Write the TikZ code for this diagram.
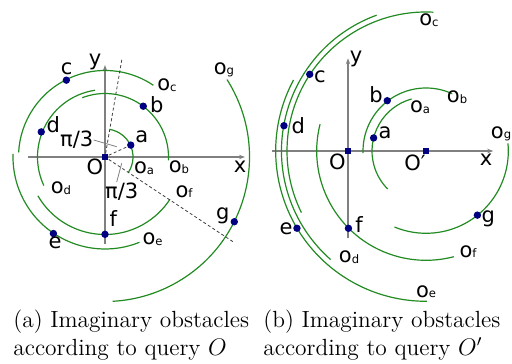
\documentclass[tikz,border=0pt]{standalone}
\usepackage{fontspec}
\usetikzlibrary{arrows.meta}
\newfontfamily\lblfont{DejaVu Sans}
\definecolor{obstgreen}{RGB}{34,139,34}
\definecolor{ptblue}{RGB}{0,0,128}
\newcommand\obsl[1]{o\raisebox{-0.3pt}{\fontsize{5.8}{6}\selectfont #1}}
\begin{document}
\begin{tikzpicture}[x=0.5pt,y=-0.5pt,
  obst/.style={draw=obstgreen, line width=0.6pt},
  axis/.style={draw=gray, line width=0.55pt, -{Stealth[length=3pt,width=2.2pt]}},
  guide/.style={draw=black!75, line width=0.4pt, dash pattern=on 1.5pt off 1.2pt},
  leader/.style={draw=gray, line width=0.4pt},
  pt/.style={circle, fill=ptblue, inner sep=0pt, minimum size=3.7pt},
  orig/.style={rectangle, fill=ptblue, inner sep=0pt, minimum size=3.4pt},
  lbl/.style={inner sep=0pt, font=\lblfont\fontsize{10.5}{12}\selectfont},
  captxt/.style={inner sep=0pt, anchor=base west, font=\fontsize{11.7}{14}\selectfont}]
\useasboundingbox (0,0) rectangle (512,363);

% ---------------- left panel ----------------
\begin{scope}[shift={(105,157)}, yscale=-1]
  \coordinate (xl1) at (-77,0);
  \coordinate (xr1) at (140,0);
  \coordinate (yb1) at (0,-87);
  \coordinate (yt1) at (0,92);
  \draw[axis] (xl1) -- (xr1);
  \draw[axis] (yb1) -- (yt1);
  % obstacles
  \draw[obst] (-33:28) arc[start angle=-33, end angle=80, radius=28];
  \draw[obst] (-3:63.5) arc[start angle=-3, end angle=111, radius=63.5];
  \draw[obst] (56:86.5) arc[start angle=56, end angle=177, radius=86.5];
  \draw[obst] (98.6:67.5) arc[start angle=98.6, end angle=205, radius=67.5];
  \draw[obst] (178:92) arc[start angle=178, end angle=292, radius=92];
  \draw[obst] (210:77.5) arc[start angle=210, end angle=327, radius=77.5];
  \draw[obst] (32.4:144.5) arc[start angle=32.4, end angle=-87, radius=144.5];
  % points
  \node[orig] (O1) at (0,0) {};
  \node[pt] (a1) at (24.8:28.4) {};
  \node[pt] (b1) at (53:63.6) {};
  \node[pt] (c1) at (116.7:86) {};
  \node[pt] (d1) at (158.5:68.5) {};
  \node[pt] (e1) at (236:92.3) {};
  \node[pt] (f1) at (270:77.3) {};
  \node[pt] (g1) at (-26.6:144.6) {};
  % guide lines
  \coordinate (u1) at (80.2:99);
  \coordinate (w1) at (-33.5:155);
  \draw[guide] (O1) -- (u1);
  \draw[guide] (O1) -- (a1);
  \draw[guide] (O1) -- (w1);
  % labels
  \node[lbl] (ly1) at (-10,95.3) {y};
  \node[lbl] (lx1) at (135,-9.7) {x};
  \node[lbl] (lO1) at (-10,-9.7) {O};
  \node[lbl] (la1) at (36.7,20.3) {a};
  \node[lbl] (lb1) at (51.7,52) {b};
  \node[lbl] (lc1) at (-38.3,88.7) {c};
  \node[lbl] (ld1) at (-51.7,32) {d};
  \node[lbl] (le1) at (-50,-85.7) {e};
  \node[lbl] (lf1) at (8.3,-62) {f};
  \node[lbl] (lg1) at (117.7,-59.3) {g};
  \node[lbl] (loa1) at (39,-11.3) {\obsl{a}};
  \node[lbl] (lob1) at (74,-10.3) {\obsl{b}};
  \node[lbl] (loc1) at (62,72) {\obsl{c}};
  \node[lbl] (lod1) at (-44,-31.3) {\obsl{d}};
  \node[lbl] (loe1) at (47.5,-82.3) {\obsl{e}};
  \node[lbl] (lof1) at (79,-34.7) {\obsl{f}};
  \node[lbl] (log1) at (119,87) {\obsl{g}};
  \node[lbl] (lpi1) at (-28.3,17) {π/3};
  \node[lbl] (lpi2) at (16.7,-34.7) {π/3};
  % leaders
  \coordinate (m1) at (11.7,10.3);
  \draw[leader] (lpi1.east) -- (m1);
  \coordinate (m2a) at (11.7,-25);
  \coordinate (m2b) at (16.7,-6.3);
  \draw[leader] (m2a) -- (m2b);
\end{scope}

% ---------------- right panel ----------------
\begin{scope}[shift={(426,151)}, yscale=-1]
  \coordinate (xl2) at (-154.3,0);
  \coordinate (xr2) at (67.3,0);
  \coordinate (yb2) at (-78,-87.3);
  \coordinate (yt2) at (-78,92.7);
  \draw[axis] (xl2) -- (xr2);
  \draw[axis] (yb2) -- (yt2);
  % obstacles
  \draw[obst] (105.5:54) arc[start angle=105.5, end angle=224.8, radius=54];
  \draw[obst] (65.4:63) arc[start angle=65.4, end angle=182, radius=63];
  \draw[obst] (87:139) arc[start angle=87, end angle=206.3, radius=139];
  \draw[obst] (110:144.5) arc[start angle=110, end angle=228.7, radius=144.5];
  \draw[obst] (151.8:150.3) arc[start angle=151.8, end angle=270.3, radius=150.3];
  \draw[obst] (165.8:109.3) arc[start angle=165.8, end angle=284.7, radius=109.3];
  \draw[obst] (5.3:82.3) arc[start angle=5.3, end angle=-112.5, radius=82.3];
  % points
  \node[orig] (O2) at (-78,0) {};
  \node[orig] (Op) at (0,0) {};
  \node[pt] (a2) at (166:54) {};
  \node[pt] (b2) at (127.6:63.5) {};
  \node[pt] (c2) at (146.6:139.3) {};
  \node[pt] (d2) at (169.9:144.3) {};
  \node[pt] (e2) at (210.9:150.4) {};
  \node[pt] (f2) at (224.9:109.5) {};
  \node[pt] (g2) at (-51.3:82.2) {};
  % labels
  \node[lbl] (ly2) at (-70,92) {y};
  \node[lbl] (lx2) at (60,-9) {x};
  \node[lbl] (lO2) at (-88.7,-10.7) {O};
  \node[lbl] (lOp) at (-11,-11.7) {O′};
  \node[lbl] (la2) at (-41,18) {a};
  \node[lbl] (lb2) at (-50,56) {b};
  \node[lbl] (lc2) at (-106,74.3) {c};
  \node[lbl] (ld2) at (-127.7,25) {d};
  \node[lbl] (le2) at (-140,-77.3) {e};
  \node[lbl] (lf2) at (-67,-74) {f};
  \node[lbl] (lg2) at (62.3,-68) {g};
  \node[lbl] (loa2) at (-6,44) {\obsl{a}};
  \node[lbl] (lob2) at (31,54) {\obsl{b}};
  \node[lbl] (loc2) at (3,131) {\obsl{c}};
  \node[lbl] (lod2) at (-77,-106.3) {\obsl{d}};
  \node[lbl] (loe2) at (0,-140.7) {\obsl{e}};
  \node[lbl] (lof2) at (42,-100.7) {\obsl{f}};
  \node[lbl] (log2) at (75,17) {\obsl{g}};
\end{scope}

% ---------------- captions ----------------
\node[captxt] (capa1) at (13,327) {(a) Imaginary obstacles};
\node[captxt] (capa2) at (13,355) {according to query $O$};
\node[captxt] (capb1) at (263,327) {(b) Imaginary obstacles};
\node[captxt] (capb2) at (263,355) {according to query $O'$};
\end{tikzpicture}
\end{document}
